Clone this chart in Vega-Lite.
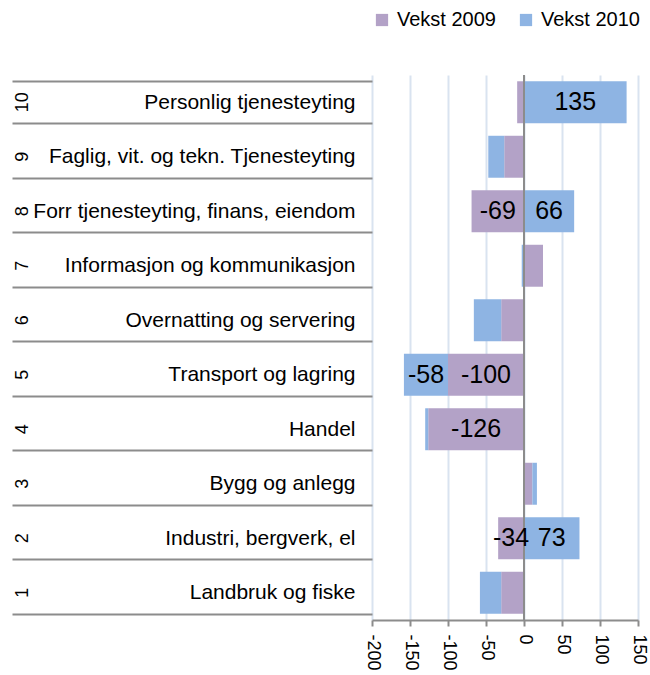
{
  "$schema": "https://vega.github.io/schema/vega-lite/v6.json",
  "width": 266,
  "height": 545,
  "padding": {"left": 5, "top": 10, "right": 5, "bottom": 5},
  "config": {
    "font": "Liberation Sans",
    "view": {"stroke": null},
    "axisX": {"tickCount": 8},
    "locale": {"number": {"decimal": ".", "thousands": ",", "grouping": [3], "currency": ["", ""], "minus": "-"}}
  },
  "data": {
    "values": [
      {"num": 10, "name": "Personlig tjenesteyting", "series": "Vekst 2009", "value": -9},
      {"num": 10, "name": "Personlig tjenesteyting", "series": "Vekst 2010", "value": 135},
      {"num": 9, "name": "Faglig, vit. og tekn. Tjenesteyting", "series": "Vekst 2009", "value": -26},
      {"num": 9, "name": "Faglig, vit. og tekn. Tjenesteyting", "series": "Vekst 2010", "value": -21},
      {"num": 8, "name": "Forr tjenesteyting, finans, eiendom", "series": "Vekst 2009", "value": -69},
      {"num": 8, "name": "Forr tjenesteyting, finans, eiendom", "series": "Vekst 2010", "value": 66},
      {"num": 7, "name": "Informasjon og kommunikasjon", "series": "Vekst 2009", "value": 25},
      {"num": 7, "name": "Informasjon og kommunikasjon", "series": "Vekst 2010", "value": -3},
      {"num": 6, "name": "Overnatting og servering", "series": "Vekst 2009", "value": -30},
      {"num": 6, "name": "Overnatting og servering", "series": "Vekst 2010", "value": -36},
      {"num": 5, "name": "Transport og lagring", "series": "Vekst 2009", "value": -100},
      {"num": 5, "name": "Transport og lagring", "series": "Vekst 2010", "value": -58},
      {"num": 4, "name": "Handel", "series": "Vekst 2009", "value": -126},
      {"num": 4, "name": "Handel", "series": "Vekst 2010", "value": -4},
      {"num": 3, "name": "Bygg og anlegg", "series": "Vekst 2009", "value": 11},
      {"num": 3, "name": "Bygg og anlegg", "series": "Vekst 2010", "value": 6},
      {"num": 2, "name": "Industri, bergverk, el", "series": "Vekst 2009", "value": -34},
      {"num": 2, "name": "Industri, bergverk, el", "series": "Vekst 2010", "value": 73},
      {"num": 1, "name": "Landbruk og fiske", "series": "Vekst 2009", "value": -30},
      {"num": 1, "name": "Landbruk og fiske", "series": "Vekst 2010", "value": -28}
    ]
  },
  "transform": [
    {"stack": "value", "groupby": ["name"], "sort": [{"field": "series", "order": "ascending"}], "as": ["v0", "v1"]},
    {"calculate": "(datum.v0 + datum.v1) / 2", "as": "mid"}
  ],
  "layer": [
    {
      "mark": {"type": "bar"},
      "encoding": {
        "y": {
          "field": "name", "type": "nominal", "sort": {"field": "num", "op": "max", "order": "descending"},
          "scale": {"paddingInner": 0.23, "paddingOuter": 0.115},
          "axis": {"orient": "left", "domain": false, "ticks": true, "tickBand": "extent", "tickSize": 360, "tickColor": "#8c8c8c", "tickWidth": 2, "grid": false, "title": null, "labelFontSize": 21, "labelColor": "black", "labelLimit": 400, "labelAlign": "right", "labelPadding": -343, "minExtent": 367, "maxExtent": 367}
        },
        "x": {
          "field": "v0", "type": "quantitative",
          "scale": {"domain": [-200, 150], "nice": false, "zero": false},
          "axis": {"values": [-200, -150, -100, -50, 0, 50, 100, 150], "grid": true, "gridColor": "#d9e3f0", "gridWidth": 2, "domainColor": "#8c8c8c", "domainWidth": 2, "tickColor": "#8c8c8c", "tickWidth": 2, "tickSize": 6, "labelAngle": 90, "labelFontSize": 18, "labelColor": "black", "labelPadding": 8, "title": null}
        },
        "x2": {"field": "v1"},
        "color": {
          "field": "series", "type": "nominal",
          "scale": {"domain": ["Vekst 2009", "Vekst 2010"], "range": ["#b3a2c7", "#8eb4e3"]},
          "legend": {"title": null, "orient": "top", "offset": 45, "direction": "horizontal", "symbolType": "square", "symbolSize": 150, "labelFontSize": 20, "labelColor": "black", "columnPadding": 20, "labelOffset": 5}
        }
      }
    },
    {
      "mark": {"type": "rule", "color": "#8c8c8c", "strokeWidth": 2},
      "encoding": {"x": {"datum": 0}}
    },
    {
      "transform": [{"filter": {"field": "value", "oneOf": [135, -69, 66, -100, -58, -126, -34, 73]}}],
      "mark": {"type": "text", "fontSize": 25, "color": "black", "align": "center", "baseline": "middle"},
      "encoding": {
        "y": {"field": "name", "type": "nominal", "sort": {"field": "num", "op": "max", "order": "descending"}, "axis": null},
        "x": {"field": "mid", "type": "quantitative"},
        "text": {"field": "value", "type": "quantitative"}
      }
    },
    {
      "mark": {"type": "rule", "opacity": 0},
      "encoding": {
        "y": {
          "field": "name", "type": "nominal", "sort": {"field": "num", "op": "max", "order": "descending"},
          "axis": {"orient": "left", "domain": false, "ticks": false, "grid": false, "title": null, "labelExpr": "indexof(['Landbruk og fiske', 'Industri, bergverk, el', 'Bygg og anlegg', 'Handel', 'Transport og lagring', 'Overnatting og servering', 'Informasjon og kommunikasjon', 'Forr tjenesteyting, finans, eiendom', 'Faglig, vit. og tekn. Tjenesteyting', 'Personlig tjenesteyting'], datum.value) + 1", "labelAngle": 270, "labelAlign": "center", "labelBaseline": "middle", "labelPadding": 350, "labelFontSize": 18, "labelColor": "black", "minExtent": 367, "maxExtent": 367}
        }
      }
    }
  ],
  "resolve": {"axis": {"y": "independent"}}
}
